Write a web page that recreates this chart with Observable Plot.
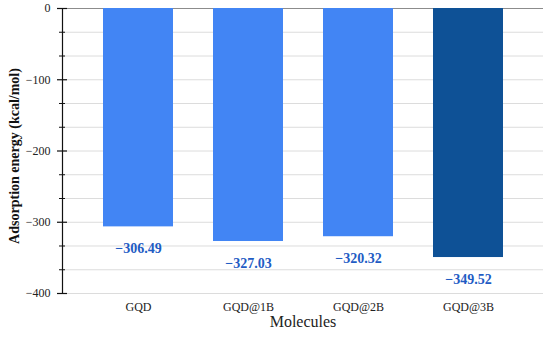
<!DOCTYPE html>
<html>
<head>
<meta charset="utf-8">
<script src="https://cdn.jsdelivr.net/npm/d3@7"></script>
<script src="https://cdn.jsdelivr.net/npm/@observablehq/plot@0.6"></script>
<style>
  html, body { margin: 0; padding: 0; background: #fff; }
</style>
</head>
<body>
<div id="chart"></div>
<script>
const molecules = ["GQD", "GQD@1B", "GQD@2B", "GQD@3B"];
const energies = [-306.49, -327.03, -320.32, -349.52];
const barColors = ["#4285F4", "#4285F4", "#4285F4", "#0E5196"];
const majorTicks = [0, -100, -200, -300, -400];
const minorTicks = [-33.33, -66.67, -133.33, -166.67, -233.33, -266.67, -333.33, -366.67];
const labelStrings = ["\u2212306.49", "\u2212327.03", "\u2212320.32", "\u2212349.52"];

const data = molecules.map((m, i) => ({m, v: energies[i], c: barColors[i], label: labelStrings[i]}));

const W = 550, H = 338, mL = 62, mR = 7, mT = 8, mB = 45;
const plotW = W - mL - mR;
const serif = "'Liberation Serif', 'Times New Roman', serif";

const chart = Plot.plot({
  width: W,
  height: H,
  marginLeft: mL,
  marginRight: mR,
  marginTop: mT,
  marginBottom: mB,
  style: {fontFamily: serif, background: "#fff", color: "#222"},
  x: {domain: molecules, range: [82, 524], paddingInner: 0.36, paddingOuter: 0.18, axis: null},
  y: {domain: [-400, 0], axis: null},
  marks: [
    Plot.ruleY([...majorTicks.slice(1), ...minorTicks], {stroke: "#dcdcdc", strokeWidth: 1}),
    Plot.ruleY([0], {stroke: "#8c8c8c", strokeWidth: 1.2}),
    Plot.barY(data, {x: "m", y: "v", fill: "c"}),
    Plot.frame({anchor: "left", stroke: "#111", strokeWidth: 1.2}),
    Plot.axisY(majorTicks, {anchor: "left", tickSize: 0, tickPadding: 12, fontSize: 12, fontFamily: serif, tickFormat: d => d === 0 ? "0" : "\u2212" + Math.abs(d), label: null}),
    Plot.ruleY(majorTicks, {y: d => d, insetLeft: -5, insetRight: plotW - 5, stroke: "#111", strokeWidth: 1.2}),
    Plot.ruleY(minorTicks, {y: d => d, insetLeft: -3, insetRight: plotW - 3, stroke: "#111", strokeWidth: 1}),
    Plot.axisX({anchor: "bottom", tickSize: 0, tickPadding: 9, fontSize: 12, fontFamily: serif, label: null}),
    Plot.text(data, {x: "m", y: "v", text: "label", dy: 22, fill: "#1F5CC4", fontWeight: "bold", fontSize: 14, fontFamily: serif}),
    Plot.text(["Adsorption energy (kcal/mol)"], {frameAnchor: "left", textAnchor: "middle", rotate: -90, dx: -48, dy: 5, fontWeight: "bold", fontSize: 14, fontFamily: serif, fill: "#111"}),
    Plot.text(["Molecules"], {frameAnchor: "bottom", dy: 33, fontSize: 16, fontFamily: serif, fill: "#222"})
  ]
});

document.getElementById("chart").appendChild(chart);
</script>
</body>
</html>
